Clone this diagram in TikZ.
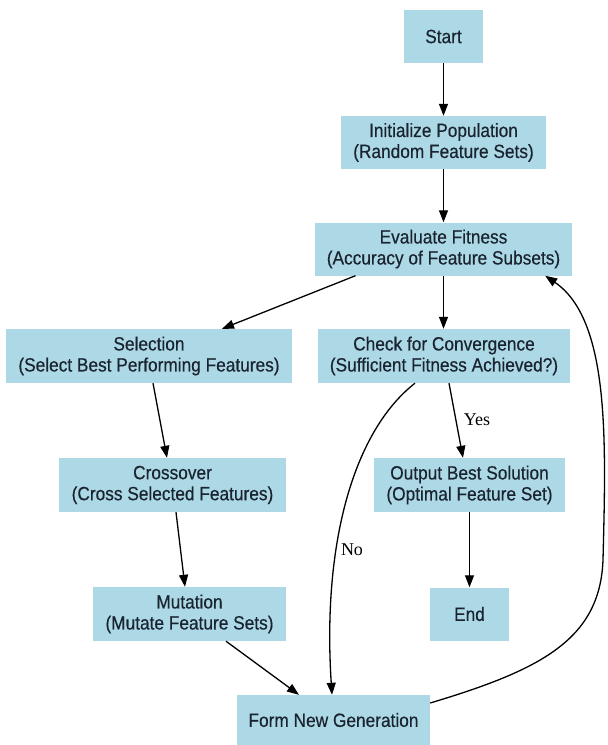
\documentclass[tikz,border=0pt]{standalone}
\usepackage{fontspec}
\setmainfont{Liberation Serif}
\newfontfamily\nodefont[FakeStretch=0.9,FakeBold=0.4]{Liberation Sans}
\usetikzlibrary{arrows.meta,calc}
\definecolor{boxfill}{HTML}{ADD8E6}
\definecolor{boxtext}{HTML}{1A2430}
\tikzset{
  box/.style={fill=boxfill, draw=none, inner sep=0pt, align=center, text=boxtext,
    font=\nodefont\fontsize{19.2}{21}\selectfont},
  arr/.style={-{Triangle[length=12pt,width=9pt]}, line width=1.3pt, black},
  lbl/.style={font=\fontsize{18}{20}\selectfont, inner sep=0pt, text=black}
}
\begin{document}
\begin{tikzpicture}[x=1pt,y=-1pt]
\fill[white] (0,0) rectangle (608,745);
\useasboundingbox (0,0) rectangle (608,745);

\node[box, minimum width=79pt, minimum height=53pt] (start) at (443.5,36.5) {Start};
\node[box, minimum width=205pt, minimum height=53pt] (init) at (443.5,142.5) {Initialize Population\\(Random Feature Sets)};
\node[box, minimum width=257pt, minimum height=53pt] (eval) at (443.5,249) {Evaluate Fitness\\(Accuracy of Feature Subsets)};
\node[box, minimum width=286pt, minimum height=54pt] (sel) at (149,356) {Selection\\(Select Best Performing Features)};
\node[box, minimum width=252pt, minimum height=54pt] (check) at (444,356) {Check for Convergence\\(Sufficient Fitness Achieved?)};
\node[box, minimum width=227pt, minimum height=54pt] (cross) at (172.5,485) {Crossover\\(Cross Selected Features)};
\node[box, minimum width=191pt, minimum height=54pt] (output) at (469.5,485) {Output Best Solution\\(Optimal Feature Set)};
\node[box, minimum width=193pt, minimum height=54pt] (mut) at (189.5,614) {Mutation\\(Mutate Feature Sets)};
\node[box, minimum width=79pt, minimum height=53pt] (endn) at (469.5,614) {End};
\node[box, minimum width=193pt, minimum height=50pt] (form) at (333.5,720) {Form New Generation};

\draw[arr] (start.south) -- (init.north);
\draw[arr] (init.south) -- (eval.north);
\draw[arr] ([xshift=-88pt]eval.south) -- ([xshift=73pt]sel.north);
\draw[arr] (eval.south) -- (eval.south |- check.north);
\draw[arr] ([xshift=5pt]check.south) -- ([xshift=-6.5pt]output.north);
\draw[arr] ([xshift=-29pt]check.south) .. controls (355,430) and (322,540) .. ([xshift=-1.5pt]form.north);
\draw[arr] ([xshift=4pt]sel.south) -- ([xshift=-5.5pt]cross.north);
\draw[arr] ([xshift=3.5pt]cross.south) -- ([xshift=-4.5pt]mut.north);
\draw[arr] (output.south) -- (endn.north);
\draw[arr] ([xshift=36.5pt]mut.south) -- ([xshift=-34.5pt]form.north);
\coordinate (fb) at (603,560);
\draw[arr] ([yshift=17pt]form.east) .. controls (540,670) and (600,640) .. (fb)
  .. controls (606,440) and (610,320) .. ([xshift=-27pt]eval.south east);

\node[lbl] (yes) at (477,420) {Yes};
\node[lbl] (no) at (352,550) {No};
\end{tikzpicture}
\end{document}
